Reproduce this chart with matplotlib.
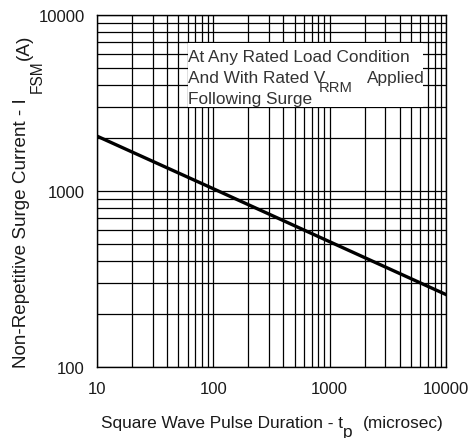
import matplotlib
matplotlib.use("Agg")
import matplotlib.pyplot as plt
from matplotlib.patches import Rectangle

plt.rcParams['font.family'] = ['Liberation Sans', 'DejaVu Sans']

# data
pulse_us = [10, 100, 1000, 10000]
surge_a = [2050, 1030, 515, 258]
x_ticks = [10, 100, 1000, 10000]
y_ticks = [100, 1000, 10000]

W, H = 472, 439
def fx(px):
    return px / W
def fy(py):
    return 1 - py / H
def pt(px):
    return px * 72 / 100

fig = plt.figure(figsize=(W / 100, H / 100), dpi=100)
ax = fig.add_axes([fx(97), fy(368), (446 - 97) / W, (368 - 16) / H])
ax.set_xscale('log')
ax.set_yscale('log')
ax.set_xlim(10, 10000)
ax.set_ylim(100, 10000)

ax.grid(True, which='both', color='black', linewidth=0.9)
ax.set_axisbelow(True)
ax.set_xticks(x_ticks)
ax.set_xticklabels([str(v) for v in x_ticks])
ax.set_yticks(y_ticks)
ax.set_yticklabels([str(v) for v in y_ticks])
ax.tick_params(which='both', length=0, labelsize=12, colors='#1a1a1a')
ax.tick_params(axis='x', pad=10)
ax.tick_params(axis='y', pad=9)
for s in ax.spines.values():
    s.set_linewidth(1.0)
    s.set_color('black')

ax.plot(pulse_us, surge_a, color='black', linewidth=2.4, zorder=3)

# white note box covering the grid
ax.add_patch(Rectangle((fx(188), fy(108)), (423 - 188) / W, (108 - 44) / H,
                       transform=fig.transFigure, facecolor='white',
                       edgecolor='none', zorder=2.5))
tc = '#333333'
fs = 12.4
fig.text(fx(188), fy(62), "At Any Rated Load Condition", fontsize=fs, color=tc,
         ha='left', va='baseline', zorder=5)
l2 = fig.text(fx(188), fy(83.3), "And With Rated V", fontsize=fs, color=tc,
              ha='left', va='baseline', zorder=5)
l2s = ax.annotate("RRM", xy=(1, 0), xycoords=l2, xytext=(pt(-7), pt(-8.4)),
                  textcoords='offset points', fontsize=10.6, color=tc,
                  ha='left', va='bottom', zorder=5, annotation_clip=False)
ax.annotate("Applied", xy=(1, 0), xycoords=l2s, xytext=(pt(15), pt(8.4)),
            textcoords='offset points', fontsize=fs, color=tc,
            ha='left', va='bottom', zorder=5, annotation_clip=False)
fig.text(fx(188), fy(104), "Following Surge", fontsize=fs, color=tc,
         ha='left', va='baseline', zorder=5)

# x axis label with full-size lowered subscript
lc = '#1a1a1a'
xfs = 12.4
xl = fig.text(fx(101), fy(428), "Square Wave Pulse Duration - t", fontsize=xfs,
              color=lc, ha='left', va='baseline')
xs = ax.annotate("p", xy=(1, 0), xycoords=xl, xytext=(0, pt(-9)),
                 textcoords='offset points', fontsize=xfs, color=lc,
                 ha='left', va='bottom', annotation_clip=False)
ax.annotate("(microsec)", xy=(1, 0), xycoords=xs, xytext=(pt(10), pt(9)),
            textcoords='offset points', fontsize=xfs, color=lc,
            ha='left', va='bottom', annotation_clip=False)

# y axis label (rotated) with lowered subscript
yfs = 13.6
yl = fig.text(fx(30.5), fy(368), "Non-Repetitive Surge Current - I", fontsize=yfs,
              color=lc, rotation=90, ha='right', va='bottom')
ys = ax.annotate("FSM", xy=(1, 1), xycoords=yl, xytext=(pt(14), pt(5)),
                 textcoords='offset points', fontsize=11.2, color=lc, rotation=90,
                 ha='right', va='bottom', annotation_clip=False)
ax.annotate("(A)", xy=(1, 1), xycoords=ys, xytext=(pt(-11.5), pt(1)),
            textcoords='offset points', fontsize=yfs, color=lc, rotation=90,
            ha='right', va='bottom', annotation_clip=False)

fig.savefig("out.png", dpi=100)
